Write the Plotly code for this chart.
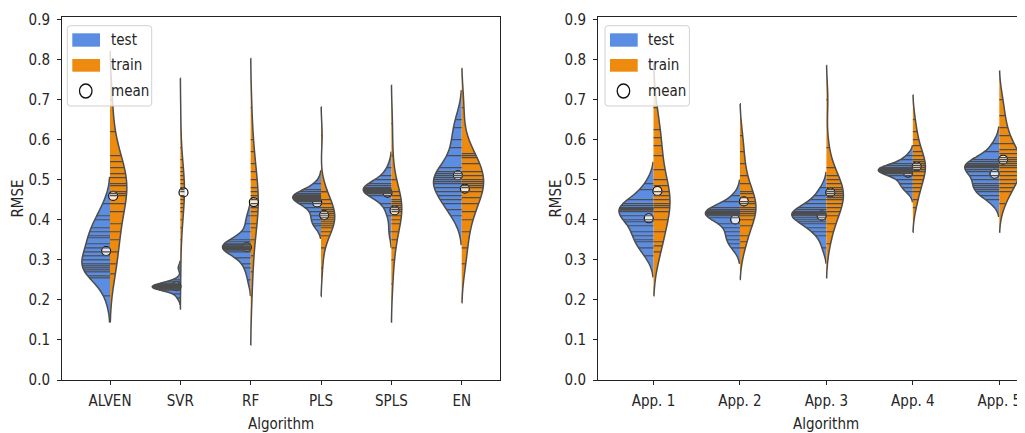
import numpy as np
import plotly.graph_objects as go

W, H = 1025, 433
OFF = 8  # page offset of the figure (browser body margin)

# ---------------- data ----------------
left_categories = ["ALVEN", "SVR", "RF", "PLS", "SPLS", "EN"]
right_categories = ["App. 1", "App. 2", "App. 3", "App. 4", "App. 5"]
y_tick_values = [0.0, 0.1, 0.2, 0.3, 0.4, 0.5, 0.6, 0.7, 0.8, 0.9]
y_tick_labels = ["0.0", "0.1", "0.2", "0.3", "0.4", "0.5", "0.6", "0.7", "0.8", "0.9"]

ALVEN_test = [0.44, 0.41, 0.40, 0.38, 0.37, 0.36, 0.355, 0.34, 0.33, 0.32, 0.31, 0.30, 0.29, 0.285, 0.28, 0.275, 0.27, 0.26, 0.255, 0.21]
ALVEN_train = [0.70, 0.62, 0.56, 0.545, 0.53, 0.515, 0.505, 0.49, 0.485, 0.47, 0.465, 0.46, 0.44, 0.42, 0.39, 0.37, 0.35, 0.32, 0.29, 0.265]
SVR_test = [0.28, 0.25, 0.245, 0.24, 0.24, 0.238, 0.236, 0.235, 0.234, 0.233, 0.232, 0.231, 0.23, 0.229, 0.229, 0.228, 0.225, 0.225, 0.215, 0.205]
SVR_train = [0.66, 0.58, 0.55, 0.53, 0.52, 0.51, 0.50, 0.49, 0.48, 0.475, 0.47, 0.46, 0.45, 0.44, 0.43, 0.42, 0.40, 0.38, 0.35, 0.27]
RF_test = [0.41, 0.39, 0.37, 0.35, 0.345, 0.34, 0.338, 0.335, 0.333, 0.332, 0.33, 0.33, 0.328, 0.326, 0.324, 0.32, 0.305, 0.29, 0.28, 0.25]
RF_train = [0.68, 0.60, 0.57, 0.54, 0.52, 0.50, 0.48, 0.47, 0.46, 0.45, 0.44, 0.43, 0.42, 0.41, 0.39, 0.38, 0.35, 0.31, 0.27, 0.21]
PLS_test = [0.49, 0.475, 0.47, 0.465, 0.462, 0.46, 0.458, 0.456, 0.455, 0.453, 0.45, 0.448, 0.445, 0.44, 0.43, 0.42, 0.41, 0.40, 0.39, 0.385]
PLS_train = [0.61, 0.47, 0.47, 0.45, 0.44, 0.43, 0.425, 0.42, 0.415, 0.41, 0.405, 0.40, 0.395, 0.39, 0.385, 0.38, 0.37, 0.36, 0.33, 0.28]
SPLS_test = [0.53, 0.51, 0.50, 0.49, 0.485, 0.48, 0.478, 0.476, 0.475, 0.474, 0.473, 0.472, 0.47, 0.468, 0.465, 0.46, 0.44, 0.43, 0.41, 0.37]
SPLS_train = [0.64, 0.56, 0.50, 0.47, 0.46, 0.45, 0.445, 0.44, 0.435, 0.43, 0.425, 0.42, 0.41, 0.40, 0.39, 0.37, 0.35, 0.33, 0.30, 0.24]
EN_test = [0.65, 0.63, 0.60, 0.58, 0.56, 0.53, 0.52, 0.515, 0.51, 0.505, 0.50, 0.495, 0.49, 0.48, 0.47, 0.46, 0.45, 0.44, 0.425, 0.41]
EN_train = [0.68, 0.56, 0.565, 0.555, 0.54, 0.52, 0.51, 0.50, 0.495, 0.49, 0.485, 0.48, 0.47, 0.455, 0.44, 0.42, 0.40, 0.37, 0.33, 0.29]

App1_test = [0.49, 0.475, 0.45, 0.44, 0.435, 0.43, 0.428, 0.426, 0.424, 0.42, 0.41, 0.40, 0.395, 0.385, 0.37, 0.36, 0.35, 0.345, 0.33, 0.31]
App1_train = [0.68, 0.625, 0.605, 0.585, 0.56, 0.525, 0.50, 0.485, 0.47, 0.46, 0.45, 0.44, 0.435, 0.43, 0.42, 0.40, 0.37, 0.345, 0.335, 0.32]
App2_test = [0.46, 0.445, 0.43, 0.425, 0.422, 0.42, 0.418, 0.416, 0.415, 0.414, 0.412, 0.41, 0.405, 0.39, 0.38, 0.37, 0.36, 0.35, 0.34, 0.33]
App2_train = [0.61, 0.57, 0.54, 0.51, 0.49, 0.47, 0.465, 0.455, 0.445, 0.44, 0.43, 0.425, 0.42, 0.415, 0.41, 0.40, 0.385, 0.36, 0.345, 0.33]
App3_test = [0.48, 0.46, 0.45, 0.44, 0.43, 0.425, 0.42, 0.418, 0.416, 0.414, 0.412, 0.41, 0.405, 0.40, 0.395, 0.39, 0.38, 0.37, 0.36, 0.33]
App3_train = [0.70, 0.58, 0.53, 0.51, 0.50, 0.49, 0.48, 0.475, 0.47, 0.465, 0.46, 0.455, 0.45, 0.44, 0.43, 0.42, 0.41, 0.39, 0.37, 0.34]
App4_test = [0.56, 0.55, 0.54, 0.535, 0.53, 0.528, 0.526, 0.525, 0.524, 0.523, 0.522, 0.52, 0.518, 0.515, 0.51, 0.50, 0.49, 0.49, 0.48, 0.47]
App4_train = [0.65, 0.62, 0.60, 0.585, 0.57, 0.56, 0.55, 0.545, 0.54, 0.535, 0.53, 0.525, 0.52, 0.51, 0.50, 0.49, 0.48, 0.47, 0.45, 0.43]
App5_test = [0.59, 0.57, 0.55, 0.545, 0.54, 0.537, 0.535, 0.533, 0.53, 0.525, 0.52, 0.51, 0.50, 0.49, 0.485, 0.48, 0.475, 0.47, 0.46, 0.45]
App5_train = [0.70, 0.66, 0.63, 0.61, 0.59, 0.575, 0.565, 0.555, 0.55, 0.545, 0.54, 0.535, 0.53, 0.52, 0.51, 0.50, 0.49, 0.48, 0.47, 0.44]

left_test = [ALVEN_test, SVR_test, RF_test, PLS_test, SPLS_test, EN_test]
left_train = [ALVEN_train, SVR_train, RF_train, PLS_train, SPLS_train, EN_train]
right_test = [App1_test, App2_test, App3_test, App4_test, App5_test]
right_train = [App1_train, App2_train, App3_train, App4_train, App5_train]

# ---------------- style ----------------
TEST_COLOR = "#5b8ee2"
TRAIN_COLOR = "#ee8a0e"
GRAY = "#4d4d4d"
TEXT = "#262626"
FONT = "DejaVu Sans Condensed, Liberation Sans Narrow, DejaVu Sans"
FS = 15
HALF = 0.4          # half-violin width in category units (violingap 0.2)
MEAN_DX = (-0.055, 0.045)


def px(x):
    return (x - OFF) / W


def py(y):
    return 1 - (y - OFF) / H


def scott_bw(v):
    v = np.asarray(v, float)
    return v.std(ddof=1) * len(v) ** (-0.2)


def kde(t, v, bw):
    u = (np.asarray(t)[:, None] - np.asarray(v)[None, :]) / bw
    return np.exp(-0.5 * u ** 2).sum(axis=1) / (len(v) * bw * np.sqrt(2 * np.pi))


def sampled_max(v, bw):
    v = np.asarray(v, float)
    lo, hi = v.min() - 2 * bw, v.max() + 2 * bw
    n = int(np.ceil((hi - lo) / (bw / 3.0)))
    t = lo + (hi - lo) / n * np.arange(n + 1)
    return kde(t, v, bw).max()


fig = go.Figure()

panels = [
    ("x", "y", left_categories, left_test, left_train),
    ("x2", "y2", right_categories, right_test, right_train),
]

for xa, ya, cats, tests, trains in panels:
    sx, sy = [], []
    mean_x, mean_y = [], []
    for i, (te, tr) in enumerate(zip(tests, trains)):
        bws = [scott_bw(te), scott_bw(tr)]
        gmax = max(sampled_max(te, bws[0]), sampled_max(tr, bws[1]))
        for k, (vals, side, col) in enumerate(
            [(te, "negative", TEST_COLOR), (tr, "positive", TRAIN_COLOR)]
        ):
            fig.add_trace(go.Violin(
                x=[i] * len(vals), y=vals, side=side,
                name=f"{xa}-{cats[i]}-{k}",
                scalegroup=f"{xa}{i}", scalemode="width",
                bandwidth=bws[k], spanmode="soft",
                fillcolor=col, line=dict(color=GRAY, width=1.5),
                points=False, box_visible=False, meanline_visible=False,
                hoverinfo="skip", showlegend=False, xaxis=xa, yaxis=ya,
            ))
            dens = kde(vals, vals, bws[k]) / gmax * HALF
            sgn = -1 if side == "negative" else 1
            for v, d in zip(vals, dens):
                sx += [i, i + sgn * d, None]
                sy += [v, v, None]
            mean_x.append(i + MEAN_DX[k])
            mean_y.append(float(np.mean(vals)))
    fig.add_trace(go.Scatter(
        x=mean_x, y=mean_y, mode="markers",
        marker=dict(symbol="circle", size=9, color="rgba(255,255,255,0.8)",
                    line=dict(color="#111111", width=1.2)),
        hoverinfo="skip", showlegend=False, xaxis=xa, yaxis=ya,
    ))
    fig.add_trace(go.Scatter(
        x=sx, y=sy, mode="lines", line=dict(color=GRAY, width=1.2),
        hoverinfo="skip", showlegend=False, xaxis=xa, yaxis=ya,
    ))

Y_BOTTOM, Y_TOP = 380.0, 17.3
y_range = [0, 0.9 * (Y_BOTTOM - Y_TOP) / (Y_BOTTOM - 19.4)]

axis_common = dict(
    showline=True, linecolor="#222222", linewidth=1,
    ticks="outside", ticklen=4, tickwidth=1, tickcolor="#222222",
    showgrid=False, zeroline=False, automargin=False,
    tickfont=dict(family=FONT, size=FS, color=TEXT),
)

# right axes run past the page edge (the reference crops them)
R_SCALE = 86.45
r_left = (598 - 653.5) / R_SCALE
r_right = ((W + OFF) - 653.5) / R_SCALE

fig.update_layout(
    width=W, height=H,
    margin=dict(l=0, r=0, t=0, b=0, autoexpand=False),
    paper_bgcolor="white", plot_bgcolor="white",
    violinmode="overlay", violingap=1 - 2 * HALF, violingroupgap=0,
    showlegend=False,
    xaxis=dict(domain=[px(62), px(500)], range=[-0.6824, 5.5445],
               tickmode="array", tickvals=list(range(len(left_categories))),
               ticktext=left_categories, mirror=True, anchor="y",
               ticklabelstandoff=3, **axis_common),
    yaxis=dict(domain=[py(Y_BOTTOM), py(Y_TOP)], range=y_range,
               tickmode="array", tickvals=y_tick_values, ticktext=y_tick_labels,
               mirror=True, anchor="x", ticklabelstandoff=4, **axis_common),
    xaxis2=dict(domain=[px(598), 1.0], range=[r_left, r_right],
                tickmode="array", tickvals=list(range(len(right_categories))),
                ticktext=right_categories, mirror=True, anchor="y2",
                ticklabelstandoff=3, **axis_common),
    yaxis2=dict(domain=[py(Y_BOTTOM), py(Y_TOP)], range=y_range,
                tickmode="array", tickvals=y_tick_values, ticktext=y_tick_labels,
                mirror=False, anchor="x2", ticklabelstandoff=4, **axis_common),
)

shapes = []
annotations = []
for ox, xc, yt in [(0.0, 281.0, 18.0), (537.7, 826.0, 556.0)]:
    annotations.append(dict(text="RMSE", x=px(yt), y=py(198.5),
                            xref="paper", yref="paper", showarrow=False,
                            textangle=-90, xanchor="center", yanchor="middle",
                            font=dict(family=FONT, size=FS, color=TEXT)))
    annotations.append(dict(text="Algorithm", x=px(xc), y=py(424),
                            xref="paper", yref="paper", showarrow=False,
                            xanchor="center", yanchor="middle",
                            font=dict(family=FONT, size=FS, color=TEXT)))
    x0, x1, y0, y1, r = 67.3 + ox, 151.7 + ox, 25.7, 106.0, 3
    path = (f"M {px(x0 + r)} {py(y0)} L {px(x1 - r)} {py(y0)} "
            f"Q {px(x1)} {py(y0)} {px(x1)} {py(y0 + r)} "
            f"L {px(x1)} {py(y1 - r)} Q {px(x1)} {py(y1)} {px(x1 - r)} {py(y1)} "
            f"L {px(x0 + r)} {py(y1)} Q {px(x0)} {py(y1)} {px(x0)} {py(y1 - r)} "
            f"L {px(x0)} {py(y0 + r)} Q {px(x0)} {py(y0)} {px(x0 + r)} {py(y0)} Z")
    shapes.append(dict(type="path", path=path, xref="paper", yref="paper",
                       fillcolor="rgba(255,255,255,0.8)",
                       line=dict(color="#d0d0d0", width=1), layer="above"))
    shapes.append(dict(type="rect", xref="paper", yref="paper",
                       x0=px(72.3 + ox), x1=px(100 + ox), y0=py(33.3), y1=py(46.7),
                       fillcolor=TEST_COLOR, line=dict(width=0), layer="above"))
    shapes.append(dict(type="rect", xref="paper", yref="paper",
                       x0=px(72.3 + ox), x1=px(100 + ox), y0=py(59), y1=py(71.7),
                       fillcolor=TRAIN_COLOR, line=dict(width=0), layer="above"))
    shapes.append(dict(type="circle", xref="paper", yref="paper",
                       x0=px(79.5 + ox), x1=px(92 + ox), y0=py(84), y1=py(98),
                       fillcolor="white", line=dict(color="#111111", width=1.3),
                       layer="above"))
    for label, yy in [("test", 40), ("train", 65.5), ("mean", 91)]:
        annotations.append(dict(text=label, x=px(108.5 + ox), y=py(yy),
                                xref="paper", yref="paper", showarrow=False,
                                xanchor="left", yanchor="middle",
                                font=dict(family=FONT, size=FS, color=TEXT)))

fig.update_layout(shapes=shapes, annotations=annotations)

fig.write_html("out.html")
